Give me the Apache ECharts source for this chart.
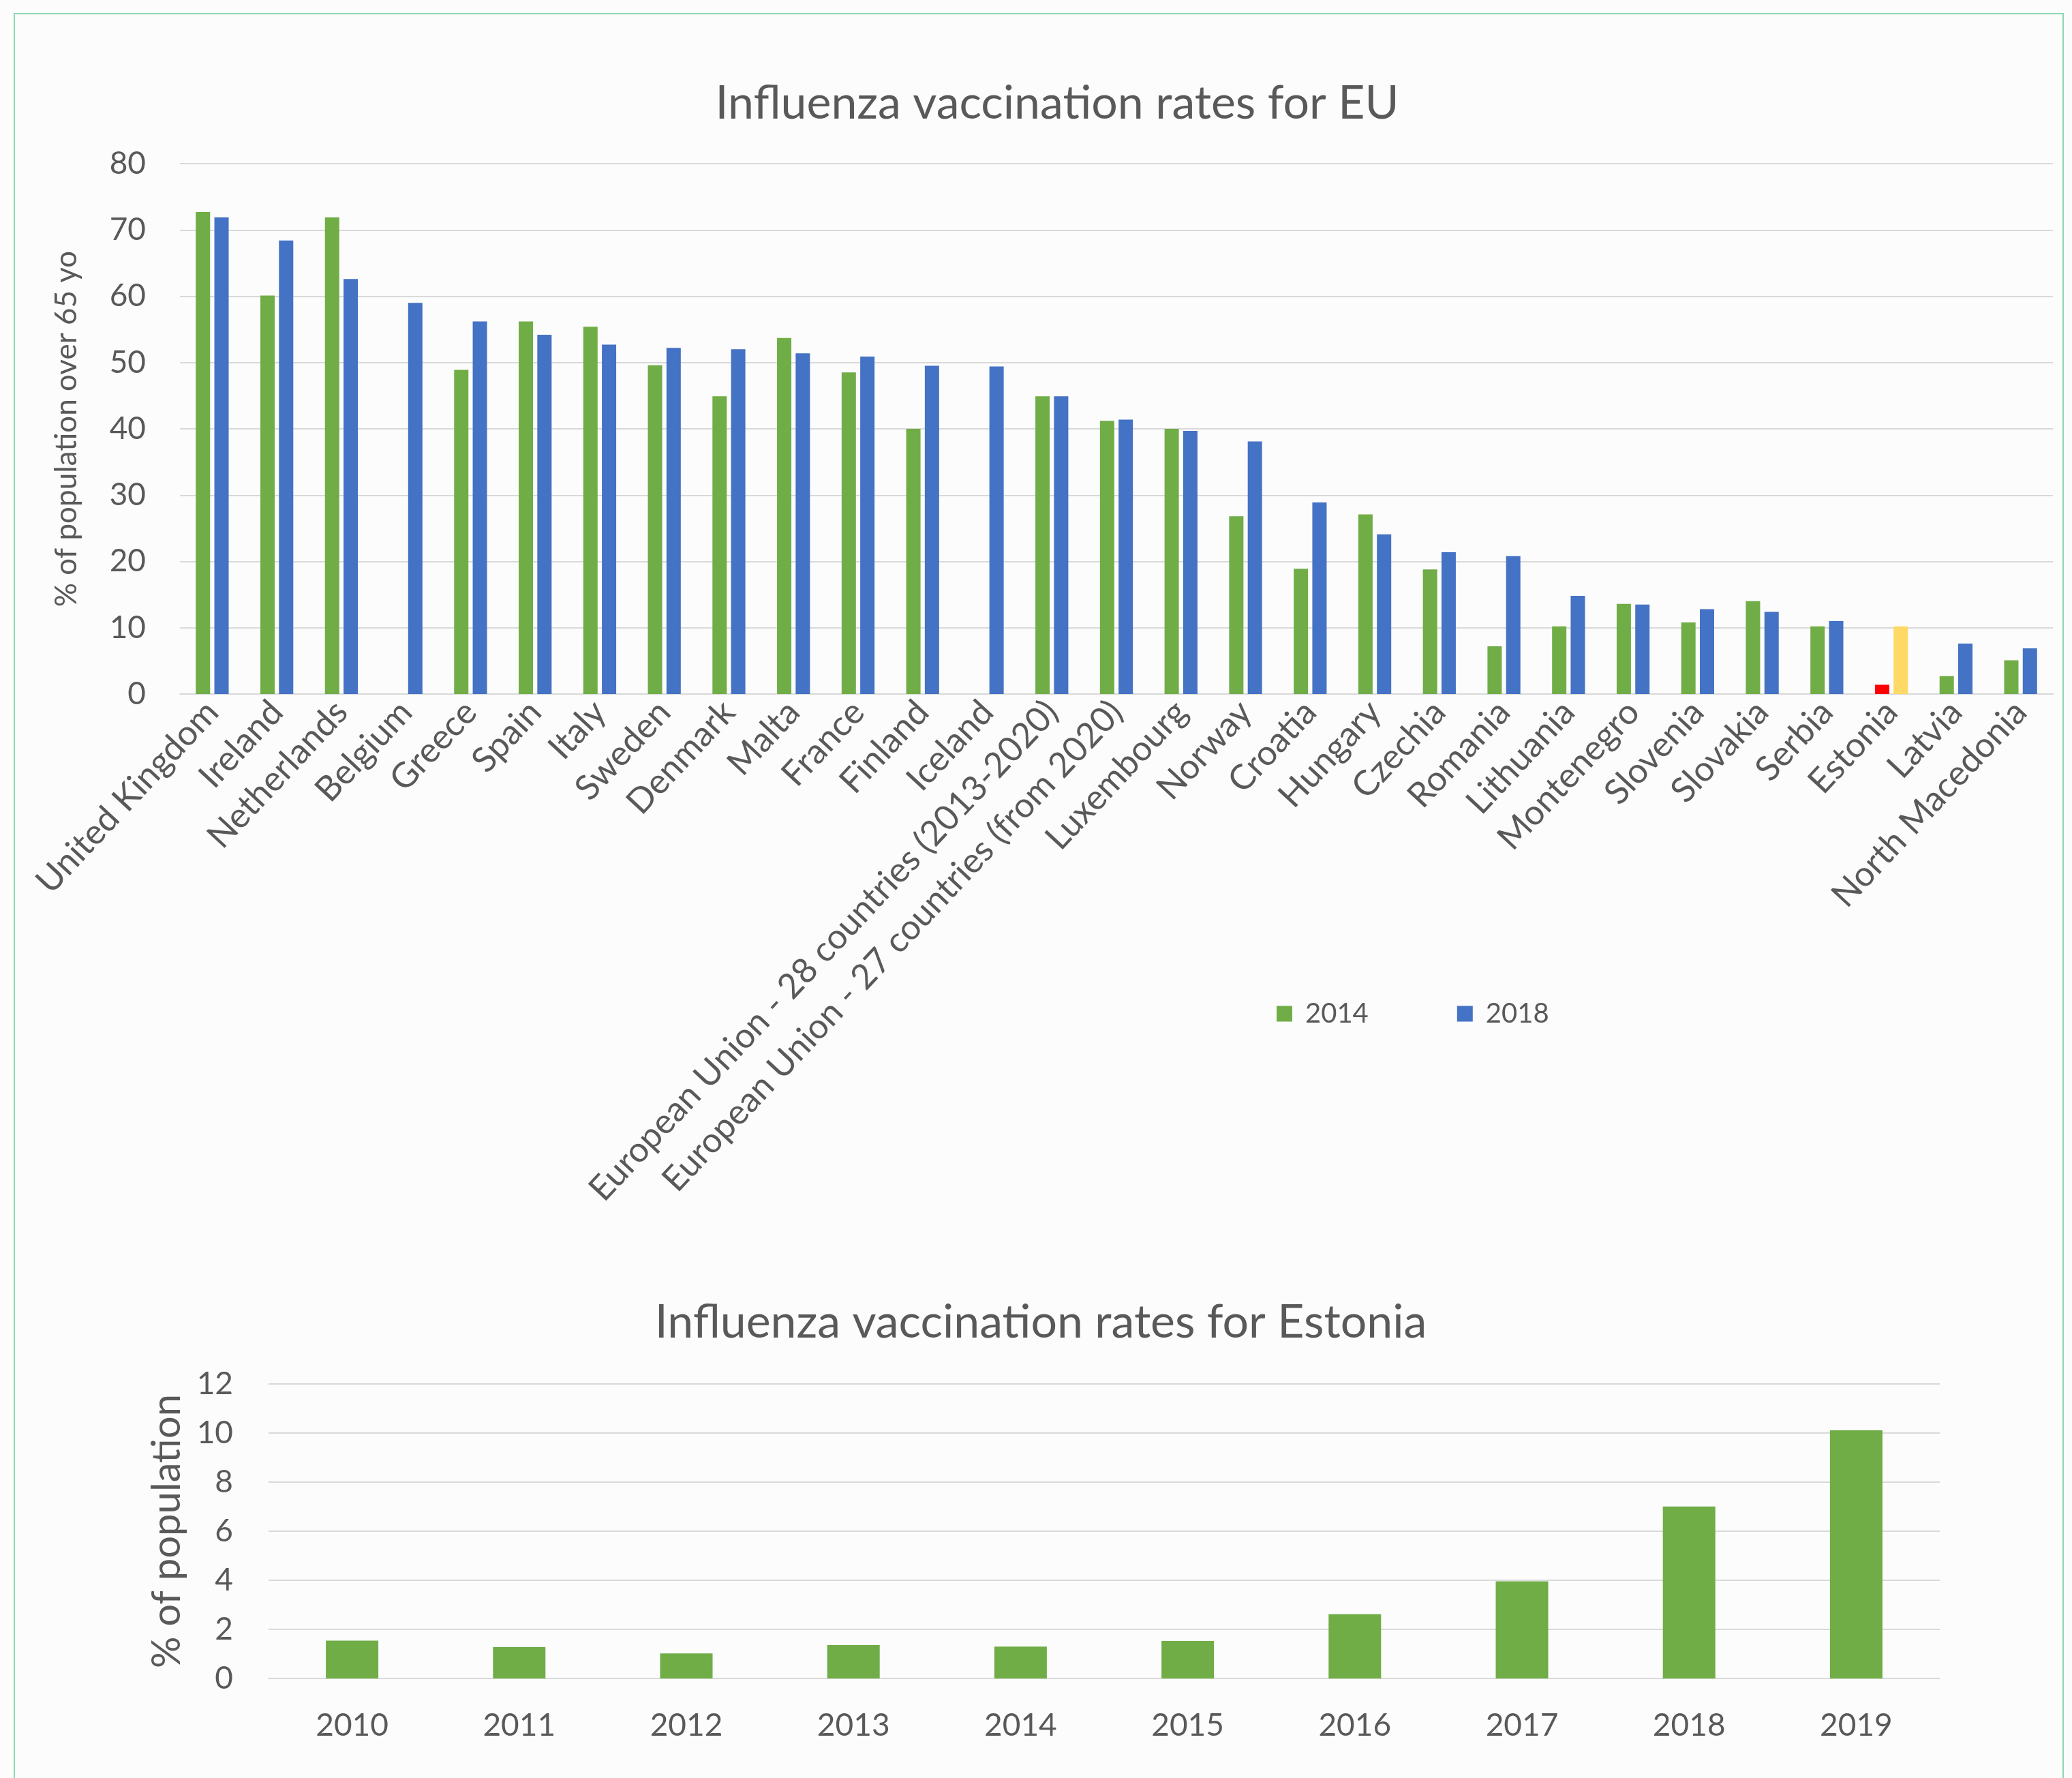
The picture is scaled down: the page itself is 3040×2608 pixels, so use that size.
<!DOCTYPE html>
<html>
<head>
<meta charset="utf-8">
<script src="https://cdn.jsdelivr.net/npm/echarts@6/dist/echarts.min.js"></script>
<style>
  html, body { margin: 0; padding: 0; background: #fcfcfc; }
  #frame { position: absolute; left: 20px; top: 19px; width: 3008px; height: 2640px;
           border: 2px solid #8ad8b2; box-sizing: border-box; }
  #chart { position: absolute; left: 0; top: 0; width: 3040px; height: 2608px; }
</style>
</head>
<body>
<div id="frame"></div>
<div id="chart"></div>
<script>
// EU comparison: share of people over 65 vaccinated against influenza
const countries = [
  'United Kingdom', 'Ireland', 'Netherlands', 'Belgium', 'Greece', 'Spain', 'Italy',
  'Sweden', 'Denmark', 'Malta', 'France', 'Finland', 'Iceland',
  'European Union - 28 countries (2013-2020)', 'European Union - 27 countries (from 2020)',
  'Luxembourg', 'Norway', 'Croatia', 'Hungary', 'Czechia', 'Romania', 'Lithuania',
  'Montenegro', 'Slovenia', 'Slovakia', 'Serbia', 'Estonia', 'Latvia', 'North Macedonia'
];
const rates2014 = [72.7, 60.1, 71.9, null, 48.9, 56.2, 55.4, 49.6, 44.9, 53.7, 48.5, 40.0, null,
  44.9, 41.2, 40.0, 26.8, 18.9, 27.1, 18.8, 7.2, 10.2, 13.6, 10.8, 14.0, 10.2, 1.4, 2.7, 5.1];
const rates2018 = [71.9, 68.4, 62.6, 59.0, 56.2, 54.2, 52.7, 52.2, 52.0, 51.4, 50.9, 49.5, 49.4,
  44.9, 41.4, 39.7, 38.1, 28.9, 24.1, 21.4, 20.8, 14.8, 13.5, 12.8, 12.4, 11.0, 10.2, 7.6, 6.9];
const highlightCountry = 'Estonia';

// Estonia over time, whole population
const years = ['2010', '2011', '2012', '2013', '2014', '2015', '2016', '2017', '2018', '2019'];
const estoniaRates = [1.54, 1.28, 1.02, 1.36, 1.30, 1.53, 2.62, 3.96, 7.01, 10.11];

const GREEN = '#70ad47', BLUE = '#4472c4', RED = '#ff0000', YELLOW = '#ffd966';
const TEXT = '#595959', GRID = '#d9d9d9';
const FONT = 'Lato, "Open Sans", sans-serif';

function withHighlight(values, color) {
  return values.map((v, i) => countries[i] === highlightCountry
    ? { value: v, itemStyle: { color } }
    : (v === null ? '-' : v));
}

const chart = echarts.init(document.getElementById('chart'), null, { renderer: 'canvas' });

chart.setOption({
  backgroundColor: 'transparent',
  animation: false,
  textStyle: { fontFamily: FONT, color: TEXT },
  title: [
    { text: 'Influenza vaccination rates for EU', left: 1546, top: 113, textAlign: 'center',
      textStyle: { fontFamily: FONT, fontSize: 68, fontWeight: 'normal', color: TEXT } },
    { text: 'Influenza vaccination rates for Estonia', left: 1522, top: 1901, textAlign: 'center',
      textStyle: { fontFamily: FONT, fontSize: 68, fontWeight: 'normal', color: TEXT } }
  ],
  legend: {
    data: ['2014', '2018'],
    left: 1868, top: 1462,
    icon: 'rect', itemWidth: 23, itemHeight: 23, itemGap: 130,
    textStyle: { fontFamily: FONT, fontSize: 40, color: TEXT, padding: [0, 0, 0, 14] }
  },
  grid: [
    { left: 264, top: 240, width: 2748, height: 778, containLabel: false },
    { left: 394, top: 2030, width: 2452, height: 432, containLabel: false }
  ],
  xAxis: [
    { type: 'category', gridIndex: 0, data: countries,
      axisLine: { lineStyle: { color: GRID, width: 2 } }, axisTick: { show: false },
      axisLabel: { rotate: 47, interval: 0, margin: 18, fontFamily: FONT, fontSize: 51, color: TEXT } },
    { type: 'category', gridIndex: 1, data: years,
      axisLine: { lineStyle: { color: GRID, width: 2 } }, axisTick: { show: false },
      axisLabel: { margin: 46, fontFamily: FONT, fontSize: 46, color: TEXT } }
  ],
  yAxis: [
    { type: 'value', gridIndex: 0, min: 0, max: 80, interval: 10,
      name: '% of population over 65 yo', nameLocation: 'middle', nameGap: 144, nameRotate: 90,
      nameTextStyle: { fontFamily: FONT, fontSize: 44, color: TEXT },
      axisLine: { show: false }, axisTick: { show: false },
      splitLine: { lineStyle: { color: GRID, width: 2 } },
      axisLabel: { margin: 50, fontFamily: FONT, fontSize: 46, color: TEXT } },
    { type: 'value', gridIndex: 1, min: 0, max: 12, interval: 2,
      name: '% of population', nameLocation: 'middle', nameGap: 120, nameRotate: 90,
      nameTextStyle: { fontFamily: FONT, fontSize: 58, color: TEXT },
      axisLine: { show: false }, axisTick: { show: false },
      splitLine: { lineStyle: { color: GRID, width: 2 } },
      axisLabel: { margin: 52, fontFamily: FONT, fontSize: 46, color: TEXT } }
  ],
  series: [
    { name: '2014', type: 'bar', xAxisIndex: 0, yAxisIndex: 0, barWidth: 21, barGap: '30%',
      itemStyle: { color: GREEN }, data: withHighlight(rates2014, RED) },
    { name: '2018', type: 'bar', xAxisIndex: 0, yAxisIndex: 0, barWidth: 21, barGap: '30%',
      itemStyle: { color: BLUE }, data: withHighlight(rates2018, YELLOW) },
    { name: 'Estonia', type: 'bar', xAxisIndex: 1, yAxisIndex: 1, barWidth: 77,
      itemStyle: { color: GREEN }, data: estoniaRates }
  ]
});
</script>
</body>
</html>
